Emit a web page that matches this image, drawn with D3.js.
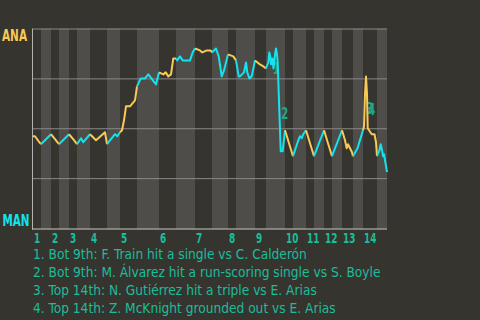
<!DOCTYPE html>
<html>
<head>
<meta charset="utf-8">
<script src="https://cdn.jsdelivr.net/npm/d3@7"></script>
<style>
  body { margin: 0; background: #36342f; }
  svg text { font-family: "DejaVu Sans Condensed", "Liberation Sans Narrow", sans-serif; }
</style>
</head>
<body>
<div id="chart"></div>
<script>
"use strict";

var awayTeam = "ANA",
  homeTeam = "MAN";

// start of every half inning, in play units (top 1st, bottom 1st, ...)
var halfStarts = [0, 4, 9, 13, 18, 22, 28.5, 37, 43.5, 52, 63, 71.5, 81, 89.5,
  97.5, 101.5, 111, 116.5, 126, 130, 136.5, 140.5, 145.5, 149.5, 154.5, 160, 165, 172];
var gameEnd = 177;
var innings = ["1", "2", "3", "4", "5", "6", "7", "8", "9", "10", "11", "12", "13", "14"];

// away team win probability after each play
var playX = [0, 1, 3.15, 4, 9, 13, 18, 20.5, 22, 24, 25.15, 28.5, 31.5, 36, 37, 41, 42.15, 43.5,
  44.5, 45.5, 46.5, 48.5, 50.15, 51, 52, 53.85, 56, 57.65, 61.5, 63, 65.15, 66.35, 67.65, 69,
  70.15, 71.5, 72.15, 73.5, 74.85, 78.5, 79.85, 81, 83.5, 84.65, 86.85, 88.85, 89.5, 91.5,
  92.85, 94.35, 95.5, 97.5, 100.15, 101.5, 102.85, 103.5, 105.5, 106.5, 107.15, 108.15, 109.35,
  111, 113.5, 115.15, 116.5, 117.65, 118.15, 118.65, 119, 119.65, 120.25, 121, 121.5, 122,
  122.35, 123.85, 124.85, 126, 130, 132.65, 133.5, 134.35, 135.15, 136.5, 140.5, 145.5, 149.5,
  154.5, 156, 156.85, 157.5, 158.5, 159.5, 160, 162.25, 165, 165.5, 166, 166.5, 167, 167.35,
  168, 169.35, 170.75, 171.5, 172, 173.25, 173.85, 174.5, 175, 175.5, 177];
var winProb = [0.46, 0.46, 0.43, 0.42, 0.47, 0.42, 0.47, 0.44, 0.42, 0.45, 0.43, 0.47, 0.44, 0.48,
  0.42, 0.47, 0.46, 0.48, 0.49, 0.54, 0.61, 0.61, 0.63, 0.64, 0.71, 0.75, 0.75, 0.77, 0.72, 0.78,
  0.77, 0.78, 0.76, 0.77, 0.85, 0.85, 0.84, 0.86, 0.84, 0.84, 0.88, 0.90, 0.89, 0.88, 0.89, 0.89,
  0.88, 0.90, 0.86, 0.76, 0.79, 0.87, 0.86, 0.84, 0.76, 0.76, 0.78, 0.83, 0.78, 0.75, 0.76, 0.84,
  0.82, 0.81, 0.80, 0.83, 0.88, 0.86, 0.82, 0.85, 0.80, 0.87, 0.90, 0.87, 0.83, 0.385, 0.385, 0.49,
  0.36, 0.44, 0.46, 0.45, 0.47, 0.49, 0.36, 0.49, 0.36, 0.49, 0.44, 0.40, 0.42, 0.40, 0.38, 0.36,
  0.40, 0.49, 0.51, 0.67, 0.76, 0.67, 0.50, 0.49, 0.47, 0.47, 0.43, 0.36, 0.39, 0.42, 0.39, 0.36,
  0.37, 0.28];

// key plays: [play before, play after]
var eventPlays = [[68, 69], [74, 75], [96, 98], [98, 100]];
var eventText = [
  "1. Bot 9th: F. Train hit a single vs C. Calderón",
  "2. Bot 9th: M. Álvarez hit a run-scoring single vs S. Boyle",
  "3. Top 14th: N. Gutiérrez hit a triple vs E. Arias",
  "4. Top 14th: Z. McKnight grounded out vs E. Arias"
];

var awayColor = "#f8ca55",
  homeColor = "#12e3ed",
  noteColor = "#1bbd9b";

var width = 480,
  height = 320,
  margin = { top: 28.5, right: 93, bottom: 91.5, left: 33 };

var svg = d3.select("#chart").append("svg")
  .attr("width", width)
  .attr("height", height);

var x = d3.scaleLinear()
  .domain([0, gameEnd])
  .range([margin.left, width - margin.right]);
var y = d3.scaleLinear()
  .domain([0, 1])
  .range([height - margin.bottom - 0.5, margin.top]);

function halfOf(u) {
  var h = 0;
  for (var i = 0; i < halfStarts.length; i++) {
    if (halfStarts[i] <= u) h = i;
  }
  return h;
}

// half inning bands
svg.append("g").selectAll("rect")
  .data(halfStarts)
  .enter().append("rect")
  .attr("x", function(d) { return x(d); })
  .attr("y", y(1))
  .attr("width", function(d, i) {
    var end = i + 1 < halfStarts.length ? halfStarts[i + 1] : gameEnd;
    return x(end) - x(d);
  })
  .attr("height", y(0) - y(1) + 1)
  .attr("fill", function(d, i) { return i % 2 ? "#4f4d4a" : "#36342f"; });

// grid lines
svg.append("g")
  .attr("transform", "translate(" + x(0) + ",0)")
  .call(d3.axisLeft(y).tickValues([0.25, 0.5, 0.75, 1]).tickSize(-(x(gameEnd) - x(0))).tickFormat(""))
  .call(function(g) {
    g.select(".domain").remove();
    g.selectAll(".tick line").attr("stroke", "#8b8986");
  });

// axes lines
svg.append("line")
  .attr("x1", x(0) - 0.5).attr("x2", x(0) - 0.5)
  .attr("y1", y(1)).attr("y2", y(0) + 1.5)
  .attr("stroke", "#b4b2af");

var xAxis = svg.append("g")
  .attr("transform", "translate(0," + (y(0) + 1) + ")")
  .call(d3.axisBottom(x)
    .tickValues(halfStarts.filter(function(d, i) { return i % 2 === 0; }))
    .tickFormat(function(d, i) { return innings[i]; })
    .tickSize(0)
    .tickPadding(0));
xAxis.select(".domain")
  .attr("stroke", "#c9c7c4")
  .attr("d", "M" + (x(0) - 1) + ",0H" + x(gameEnd));
xAxis.selectAll(".tick text")
  .attr("text-anchor", "start")
  .attr("dy", null)
  .attr("y", 13.5)
  .attr("x", 0.5)
  .attr("fill", noteColor)
  .attr("textLength", function() { return this.textContent.length * 6.2; })
  .attr("lengthAdjust", "spacingAndGlyphs")
  .style("font-size", "14px")
  .style("font-weight", "bold");

// annotations of key plays
svg.append("g").selectAll("text")
  .data(eventPlays)
  .enter().append("text")
  .attr("x", function(d) { return x(playX[d[1]]) + 0.5; })
  .attr("y", function(d) { return (y(winProb[d[0]]) + y(winProb[d[1]])) / 2 + 12.5; })
  .attr("fill", "#1ea88a")
  .attr("textLength", 7)
  .attr("lengthAdjust", "spacingAndGlyphs")
  .style("font-size", "15px")
  .style("font-weight", "bold")
  .text(function(d, i) { return i + 1; });

// win probability line, coloured by batting team
var pts = playX.map(function(d, i) { return [d, winProb[i]]; });
var runs = [];
for (var i = 0; i < pts.length - 1; i++) {
  var side = halfOf((pts[i][0] + pts[i + 1][0]) / 2) % 2;
  var last = runs[runs.length - 1];
  if (last && last.side === side) {
    last.points.push(pts[i + 1]);
  } else {
    runs.push({ side: side, points: [pts[i], pts[i + 1]] });
  }
}

var line = d3.line()
  .x(function(d) { return x(d[0]); })
  .y(function(d) { return y(d[1]); });

svg.append("g").selectAll("path")
  .data(runs)
  .enter().append("path")
  .attr("d", function(d) { return line(d.points); })
  .attr("fill", "none")
  .attr("stroke", function(d) { return d.side ? homeColor : awayColor; })
  .attr("stroke-width", 2)
  .attr("stroke-linejoin", "round");

// team labels
svg.append("text")
  .attr("x", 2)
  .attr("y", y(1) + 12.5)
  .attr("fill", awayColor)
  .attr("textLength", 25)
  .attr("lengthAdjust", "spacingAndGlyphs")
  .style("font-size", "15px")
  .style("font-weight", "bold")
  .text(awayTeam);
svg.append("text")
  .attr("x", 2.5)
  .attr("y", y(0) - 2.5)
  .attr("fill", homeColor)
  .attr("textLength", 27)
  .attr("lengthAdjust", "spacingAndGlyphs")
  .style("font-size", "15px")
  .style("font-weight", "bold")
  .text(homeTeam);

// play descriptions
svg.append("g").selectAll("text")
  .data(eventText)
  .enter().append("text")
  .attr("x", 33)
  .attr("y", function(d, i) { return 258.5 + i * 18.2; })
  .attr("fill", noteColor)
  .style("font-size", "13.6px")
  .text(function(d) { return d; });
</script>
</body>
</html>
